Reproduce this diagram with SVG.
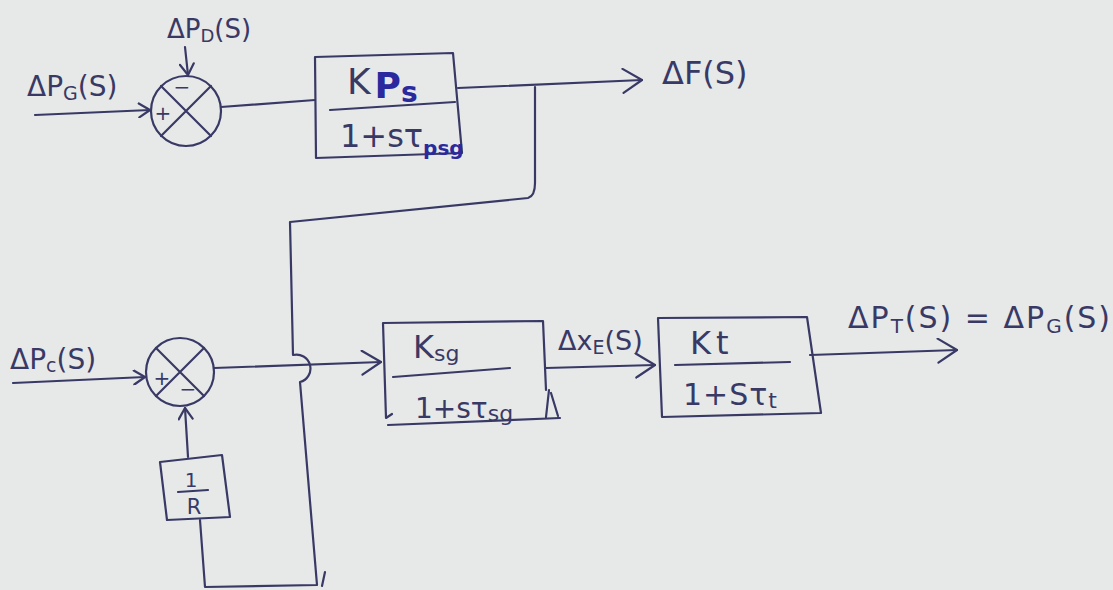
<svg xmlns="http://www.w3.org/2000/svg" width="1113" height="590" viewBox="0 0 1113 590">
<defs>
<style>
.ink{fill:none;stroke:#393966;stroke-width:2.2;stroke-linecap:round;stroke-linejoin:round}
.t{font-family:"DejaVu Sans","Liberation Sans",sans-serif;fill:#393966}
.b{font-family:"DejaVu Sans","Liberation Sans",sans-serif;fill:#2a2a9e;font-weight:bold}
</style>
<marker id="chev" viewBox="0 0 22 26" refX="21" refY="13" markerWidth="22" markerHeight="26" orient="auto" markerUnits="userSpaceOnUse">
<path d="M2,1 L21,13 L2,25" fill="none" stroke="#393966" stroke-width="2.2" stroke-linecap="round" stroke-linejoin="round"/>
</marker>
<marker id="chevS" viewBox="0 0 14 16" refX="13" refY="8" markerWidth="14" markerHeight="16" orient="auto" markerUnits="userSpaceOnUse">
<path d="M2,1 L13,8 L2,15" fill="none" stroke="#393966" stroke-width="2.2" stroke-linecap="round" stroke-linejoin="round"/>
</marker>
</defs>
<rect x="0" y="0" width="1113" height="590" fill="#e7e9e8"/>

<g id="connectors">
<path class="ink" d="M35,115 L150,110" marker-end="url(#chevS)"/>
<path class="ink" d="M185,47 L188,75" marker-end="url(#chevS)"/>
<path class="ink" d="M221,107 L315,100"/>
<path class="ink" d="M458,88 L642,80" marker-end="url(#chev)"/>
<path class="ink" d="M535,87 L535,183 Q535,196 528,198 L290,222 L293,355 A13,13 0 0 1 300,382 L317,585 L205,587 L200,520"/>
<path class="ink" d="M325,572 L322,586"/>
<path class="ink" d="M188,457 L185,408" marker-end="url(#chevS)"/>
<path class="ink" d="M13,383 L145,377" marker-end="url(#chevS)"/>
<path class="ink" d="M214,368 L381,362" marker-end="url(#chev)"/>
<path class="ink" d="M546,368 L655,365" marker-end="url(#chev)"/>
<path class="ink" d="M810,355 L957,350" marker-end="url(#chev)"/>
</g>

<g id="label-dPG">
<text class="t" x="27" y="96" font-size="28">ΔP<tspan font-size="19" dy="4">G</tspan><tspan dy="-4">(S)</tspan></text>
</g>
<g id="label-dPD">
<text class="t" x="167" y="38" font-size="26">ΔP<tspan font-size="18" dy="4">D</tspan><tspan dy="-4">(S)</tspan></text>
</g>
<g id="label-dF">
<text class="t" x="662" y="84" font-size="32">ΔF(S)</text>
</g>
<g id="label-dPc">
<text class="t" x="10" y="369" font-size="28">ΔP<tspan font-size="19" dy="3">c</tspan><tspan dy="-3">(S)</tspan></text>
</g>
<g id="label-dXE">
<text class="t" x="558" y="350" font-size="27">Δx<tspan font-size="19" dy="4">E</tspan><tspan dy="-4">(S)</tspan></text>
</g>
<g id="label-dPT">
<text class="t" x="848" y="328" font-size="30" letter-spacing="2">ΔP<tspan font-size="20" dy="5">T</tspan><tspan dy="-5">(S) = ΔP</tspan><tspan font-size="20" dy="5">G</tspan><tspan dy="-5">(S)</tspan></text>
</g>

<g id="sum1">
<circle class="ink" cx="186" cy="111" r="35"/>
<path class="ink" d="M161,86 L211,136 M211,86 L161,136"/>
<text class="t" x="182" y="94" font-size="20" text-anchor="middle">−</text>
<text class="t" x="163" y="120" font-size="20" text-anchor="middle">+</text>
</g>

<g id="block1">
<path class="ink" d="M315,57 L453,53 L462,153 L316,158 Z"/>
<path class="ink" d="M330,110 L455,102"/>
<text class="t" x="347" y="94" font-size="36">K<tspan class="b" font-size="36" dx="4" dy="4">P</tspan><tspan class="b" font-size="28" dy="4">s</tspan></text>
<text class="t" x="340" y="147" font-size="32">1+sτ<tspan class="b" font-size="20" dy="8">psg</tspan></text>
</g>

<g id="sum2">
<circle class="ink" cx="180" cy="372" r="34"/>
<path class="ink" d="M156,348 L204,396 M204,348 L156,396"/>
<text class="t" x="162" y="385" font-size="20" text-anchor="middle">+</text>
<text class="t" x="188" y="396" font-size="20" text-anchor="middle">−</text>
</g>

<g id="gainR">
<path class="ink" d="M160,462 L222,455 L230,517 L167,520 Z"/>
<text class="t" x="191" y="487" font-size="20" text-anchor="middle">1</text>
<path class="ink" d="M178,492 L208,490"/>
<text class="t" x="194" y="514" font-size="21" text-anchor="middle">R</text>
</g>

<g id="block2">
<path class="ink" d="M383,323 L543,321 L546,390 M383,323 L386,418 L392,414 M388,425 L560,418 M549,390 L546,417 M551,393 L558,416"/>
<path class="ink" d="M393,377 L510,368"/>
<text class="t" x="413" y="358" font-size="32">K<tspan font-size="22" dy="3">sg</tspan></text>
<text class="t" x="415" y="418" font-size="28">1+sτ<tspan font-size="22" dy="3">sg</tspan></text>
</g>

<g id="block3">
<path class="ink" d="M658,318 L807,317 L821,413 L662,417 Z"/>
<path class="ink" d="M675,365 L790,362"/>
<text class="t" x="690" y="354" font-size="32">K<tspan dx="5">t</tspan></text>
<text class="t" x="683" y="405" font-size="30" letter-spacing="1">1+Sτ<tspan font-size="22" dy="3">t</tspan></text>
</g>
</svg>
